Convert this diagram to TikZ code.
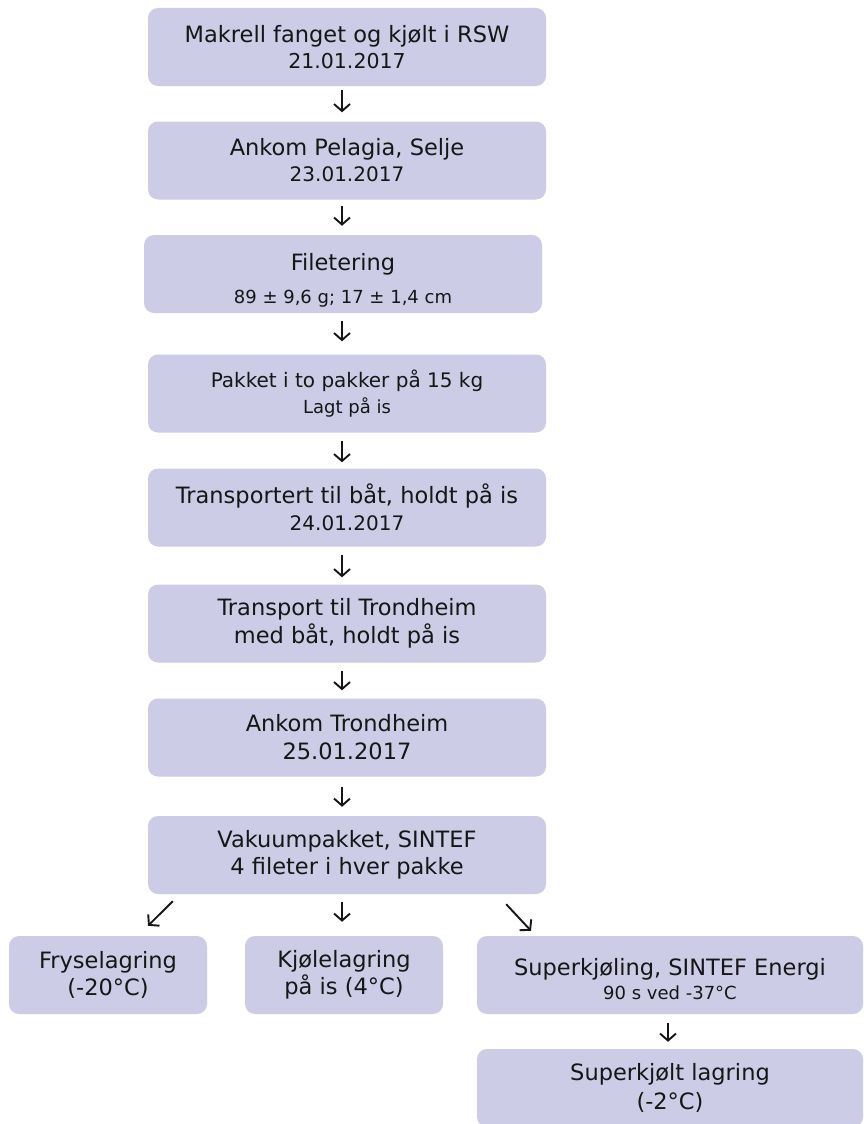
\documentclass[tikz,border=0pt]{standalone}
\usepackage{fontspec}
\setmainfont{DejaVu Sans}
\usetikzlibrary{arrows.meta}
\definecolor{boxfill}{RGB}{204,204,230}
\definecolor{ink}{RGB}{22,22,22}
\newcommand{\szmain}{\fontsize{22.5}{26}\selectfont}
\newcommand{\szmid}{\fontsize{20}{26}\selectfont}
\newcommand{\szsmall}{\fontsize{18}{26}\selectfont}
\begin{document}
\begin{tikzpicture}[x=1pt,y=-1pt,
  stepbox/.style={fill=boxfill, rounded corners=10pt, minimum width=398pt,
    minimum height=78pt, inner sep=0pt, align=center, text=ink, font=\szmain},
  sidebox/.style={stepbox, minimum width=198pt},
  widebox/.style={stepbox, minimum width=386pt},
  flow/.style={-{Straight Barb[length=7pt,width=16pt]}, line width=1.9pt, draw=ink}]
\useasboundingbox[fill=white] (0,0) rectangle (863,1124);

% main chain
\node[stepbox] (b1) at (347,47) {Makrell fanget og kjølt i RSW\\{\fontsize{20.5}{26}\selectfont 21.01.2017}};
\node[stepbox] (b2) at (347,160.5) {Ankom Pelagia, Selje\\{\fontsize{20}{26}\selectfont 23.01.2017}};
\node[stepbox] (b3) at (343,274) {\rule{0pt}{29pt}Filetering\\[7pt]{\szsmall 89 ± 9,6 g; 17 ± 1,4 cm}};
\node[stepbox] (b4) at (347,393.5) {{\szmid Pakket i to pakker på 15 kg}\\{\szsmall Lagt på is}};
\node[stepbox] (b5) at (347,507.5) {Transportert til båt, holdt på is\\[0.5pt]{\fontsize{20}{26}\selectfont 24.01.2017}};
\node[stepbox] (b6) at (347,623.5) {Transport til Trondheim\\[1.5pt]med båt, holdt på is};
\node[stepbox] (b7) at (347,737.5) {Ankom Trondheim\\[2pt]25.01.2017};
\node[stepbox] (b8) at (347,855) {Vakuumpakket, SINTEF\\[1.5pt]4 fileter i hver pakke};

% storage branches
\node[sidebox] (b9) at (108,975) {Fryselagring\\[1pt](-20°C)};
\node[sidebox] (b10) at (344,975) {Kjølelagring\\[1pt]på is (4°C)};
\node[widebox] (b11) at (670,975) {\rule{0pt}{25.5pt}Superkjøling, SINTEF Energi\\[-1.5pt]{\szsmall 90 s ved -37°C}};
\node[widebox] (b12) at (670,1088) {Superkjølt lagring\\[3pt](-2°C)};

% connectors
\draw[flow, shorten <=4pt, shorten >=9pt] ([xshift=-5pt]b1.south) -- ([xshift=-5pt]b2.north);
\draw[flow, shorten <=6pt, shorten >=9pt] ([xshift=-5pt]b2.south) -- ([xshift=-1pt]b3.north);
\draw[flow, shorten <=8pt, shorten >=13pt] ([xshift=-1pt]b3.south) -- ([xshift=-5pt]b4.north);
\draw[flow, shorten <=8pt, shorten >=6pt] ([xshift=-5pt]b4.south) -- ([xshift=-5pt]b5.north);
\draw[flow, shorten <=8pt, shorten >=7pt] ([xshift=-5pt]b5.south) -- ([xshift=-5pt]b6.north);
\draw[flow, shorten <=8pt, shorten >=8pt] ([xshift=-5pt]b6.south) -- ([xshift=-5pt]b7.north);
\draw[flow, shorten <=10pt, shorten >=9pt] ([xshift=-5pt]b7.south) -- ([xshift=-5pt]b8.north);
\draw[flow] ([shift={(25,7)}]b8.south west) -- ([shift={(40,-10)}]b9.north);
\draw[flow, shorten <=8pt, shorten >=14pt] ([xshift=-5pt]b8.south) -- ([xshift=-2pt]b10.north);
\draw[flow] ([shift={(-40,10)}]b8.south east) -- ([shift={(-139,-5)}]b11.north);
\draw[flow, shorten <=9pt, shorten >=7pt] ([xshift=-2pt]b11.south) -- ([xshift=-2pt]b12.north);
\end{tikzpicture}
\end{document}
